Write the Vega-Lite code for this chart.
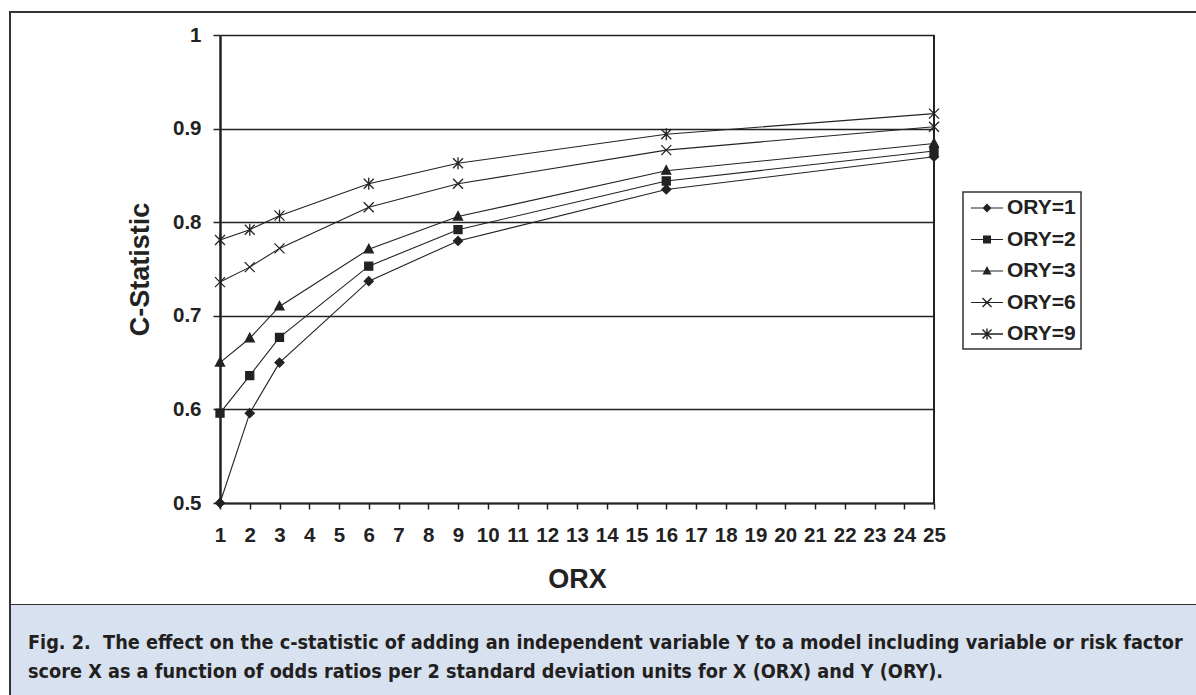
{
  "$schema": "https://vega.github.io/schema/vega-lite/v6.json",
  "background": "white",
  "padding": {"left": 9, "top": 11, "right": 0, "bottom": 0},
  "spacing": 0,
  "bounds": "flush",
  "config": {
    "font": "Liberation Sans",
    "legend": {"strokeWidth": 1.5}
  },
  "datasets": {
    "cstat": [
      {"ORY": "ORY=1", "ORX": 1, "C": 0.500}, {"ORY": "ORY=1", "ORX": 2, "C": 0.596}, {"ORY": "ORY=1", "ORX": 3, "C": 0.650}, {"ORY": "ORY=1", "ORX": 6, "C": 0.737}, {"ORY": "ORY=1", "ORX": 9, "C": 0.780}, {"ORY": "ORY=1", "ORX": 16, "C": 0.835}, {"ORY": "ORY=1", "ORX": 25, "C": 0.870},
      {"ORY": "ORY=2", "ORX": 1, "C": 0.596}, {"ORY": "ORY=2", "ORX": 2, "C": 0.636}, {"ORY": "ORY=2", "ORX": 3, "C": 0.677}, {"ORY": "ORY=2", "ORX": 6, "C": 0.753}, {"ORY": "ORY=2", "ORX": 9, "C": 0.792}, {"ORY": "ORY=2", "ORX": 16, "C": 0.844}, {"ORY": "ORY=2", "ORX": 25, "C": 0.876},
      {"ORY": "ORY=3", "ORX": 1, "C": 0.650}, {"ORY": "ORY=3", "ORX": 2, "C": 0.676}, {"ORY": "ORY=3", "ORX": 3, "C": 0.710}, {"ORY": "ORY=3", "ORX": 6, "C": 0.771}, {"ORY": "ORY=3", "ORX": 9, "C": 0.806}, {"ORY": "ORY=3", "ORX": 16, "C": 0.855}, {"ORY": "ORY=3", "ORX": 25, "C": 0.884},
      {"ORY": "ORY=6", "ORX": 1, "C": 0.736}, {"ORY": "ORY=6", "ORX": 2, "C": 0.752}, {"ORY": "ORY=6", "ORX": 3, "C": 0.772}, {"ORY": "ORY=6", "ORX": 6, "C": 0.816}, {"ORY": "ORY=6", "ORX": 9, "C": 0.841}, {"ORY": "ORY=6", "ORX": 16, "C": 0.877}, {"ORY": "ORY=6", "ORX": 25, "C": 0.902},
      {"ORY": "ORY=9", "ORX": 1, "C": 0.781}, {"ORY": "ORY=9", "ORX": 2, "C": 0.792}, {"ORY": "ORY=9", "ORX": 3, "C": 0.807}, {"ORY": "ORY=9", "ORX": 6, "C": 0.841}, {"ORY": "ORY=9", "ORX": 9, "C": 0.863}, {"ORY": "ORY=9", "ORX": 16, "C": 0.894}, {"ORY": "ORY=9", "ORX": 25, "C": 0.916}
    ]
  },
  "vconcat": [
    {
      "width": 1187,
      "height": 593,
      "view": {"stroke": "#333", "strokeWidth": 2, "strokeDash": [1187, 593, 1780], "fill": "white"},
      "data": {"name": "cstat"},
      "layer": [
        {
          "mark": {"type": "line", "color": "#222"},
          "encoding": {
            "x": {
              "field": "ORX", "type": "quantitative",
              "scale": {"domain": [1, 25], "range": [210, 924], "nice": false, "zero": false},
              "axis": {
                "orient": "bottom", "offset": -102,
                "values": [1,2,3,4,5,6,7,8,9,10,11,12,13,14,15,16,17,18,19,20,21,22,23,24,25],
                "grid": false, "labelOverlap": false, "labelFlush": false,
                "domainColor": "#222", "domainWidth": 2,
                "tickColor": "#222", "tickSize": 6, "tickWidth": 1.5,
                "labelFont": "Liberation Sans", "labelFontWeight": "bold", "labelFontSize": 20.5, "labelColor": "#222", "labelPadding": 16,
                "title": "ORX", "titleFont": "Liberation Sans", "titleFontWeight": "bold", "titleFontSize": 27, "titleColor": "#222", "titlePadding": 21
              }
            },
            "y": {
              "field": "C", "type": "quantitative",
              "scale": {"domain": [0.5, 1], "range": [491, 23], "nice": false, "zero": false},
              "axis": {
                "orient": "left", "offset": -210,
                "values": [0.5, 0.6, 0.7, 0.8, 0.9, 1], "format": "~g",
                "grid": true, "gridColor": "#222", "gridWidth": 1.5, "gridOpacity": 1,
                "domainColor": "#222", "domainWidth": 2.5,
                "tickColor": "#222", "tickSize": 7, "tickWidth": 1.5,
                "labelFont": "Liberation Sans", "labelFontWeight": "bold", "labelFontSize": 20.5, "labelColor": "#222", "labelPadding": 12,
                "title": "C-Statistic", "titleFont": "Liberation Sans", "titleFontWeight": "bold", "titleFontSize": 27, "titleColor": "#222", "titlePadding": 18
              }
            },
            "detail": {"field": "ORY", "type": "nominal"},
            "strokeWidth": {
              "field": "ORY", "type": "nominal",
              "scale": {"domain": ["ORY=1", "ORY=2", "ORY=3", "ORY=6", "ORY=9"], "range": [1.1, 1.1, 1.1, 1.1, 2.2]},
              "legend": null
            }
          }
        },
        {
          "mark": {"type": "point", "filled": true, "fill": "#222", "stroke": "#222", "strokeWidth": 1.3, "size": 100, "opacity": 1},
          "encoding": {
            "x": {"field": "ORX", "type": "quantitative"},
            "y": {"field": "C", "type": "quantitative"},
            "shape": {
              "field": "ORY", "type": "nominal",
              "scale": {
                "domain": ["ORY=1", "ORY=2", "ORY=3", "ORY=6", "ORY=9"],
                "range": [
                  "M0,-0.9L0.9,0L0,0.9L-0.9,0Z",
                  "M-0.8,-0.8H0.8V0.8H-0.8Z",
                  "M0,-1L0.9,0.7H-0.9Z",
                  "M-1,-1L1,1M-1,1L1,-1",
                  "M-1,-1L1,1M-1,1L1,-1M0,-1.2V1.2"
                ]
              },
              "legend": null
            }
          }
        },
        {
          "mark": {"type": "rule", "color": "#222", "strokeWidth": 1.2},
          "encoding": {
            "x": {"datum": 25},
            "y": {"datum": 0.5},
            "y2": {"datum": 1}
          }
        },
        {
          "transform": [{"filter": "false"}],
          "mark": {"type": "point", "filled": true, "fill": "#222", "stroke": "#222", "strokeWidth": 1.2, "size": 400, "opacity": 1},
          "encoding": {
            "x": {"field": "ORX", "type": "quantitative"},
            "y": {"field": "C", "type": "quantitative"},
            "shape": {
              "field": "ORY", "type": "nominal",
              "scale": {
                "domain": ["ORY=1", "ORY=2", "ORY=3", "ORY=6", "ORY=9"],
                "range": [
                  "M-1.6,-0.06V0.06H1.6V-0.06ZM0,-0.45L-0.45,0L0,0.45L0.45,0Z",
                  "M-1.6,-0.06V0.06H1.6V-0.06ZM-0.4,-0.4V0.4H0.4V-0.4Z",
                  "M-1.6,-0.06V0.06H1.6V-0.06ZM0,-0.5L-0.45,0.35H0.45Z",
                  "M-1.6,-0.06V0.06H1.6V-0.06ZM-0.5,-0.4L0.4,0.5L0.5,0.4L-0.4,-0.5ZM-0.4,0.5L0.5,-0.4L0.4,-0.5L-0.5,0.4Z",
                  "M-1.6,-0.07V0.07H1.6V-0.07ZM-0.5,-0.4L0.4,0.5L0.5,0.4L-0.4,-0.5ZM-0.4,0.5L0.5,-0.4L0.4,-0.5L-0.5,0.4ZM-0.07,-0.55V0.55H0.07V-0.55Z"
                ]
              },
              "legend": {
                "orient": "none", "legendX": 953, "legendY": 180,
                "title": null, "padding": 5, "strokeColor": "#333", "fillColor": "white",
                "symbolSize": 400, "symbolOffset": 8, "symbolStrokeWidth": 1.2,
                "symbolFillColor": "#222", "symbolStrokeColor": "#222", "symbolOpacity": 1,
                "labelOffset": 9, "rowPadding": 10.5,
                "labelFont": "Liberation Sans", "labelFontWeight": "bold", "labelFontSize": 21, "labelColor": "#222"
              }
            }
          }
        }
      ],
      "resolve": {"scale": {"shape": "independent"}}
    },
    {
      "width": 1187,
      "height": 91,
      "view": {"stroke": null},
      "data": {"values": [{}]},
      "mark": {"type": "rect", "fill": "#d7e1ef", "stroke": "#333", "strokeWidth": 2, "strokeDash": [0, 2465, 91]},
      "encoding": {},
      "title": {
        "text": [
          "Fig. 2.\u00a0 The effect on the c-statistic of adding an independent variable Y to a model including variable or risk factor",
          "score X as a function of odds ratios per 2 standard deviation units for X (ORX) and Y (ORY)."
        ],
        "orient": "top", "anchor": "start", "frame": "group",
        "offset": -94, "dx": 18, "baseline": "alphabetic",
        "font": "Liberation Sans Narrow, DejaVu Sans Condensed, sans-serif",
        "fontSize": 19.7, "fontWeight": "bold", "color": "#231f20", "lineHeight": 29.5
      }
    }
  ]
}
